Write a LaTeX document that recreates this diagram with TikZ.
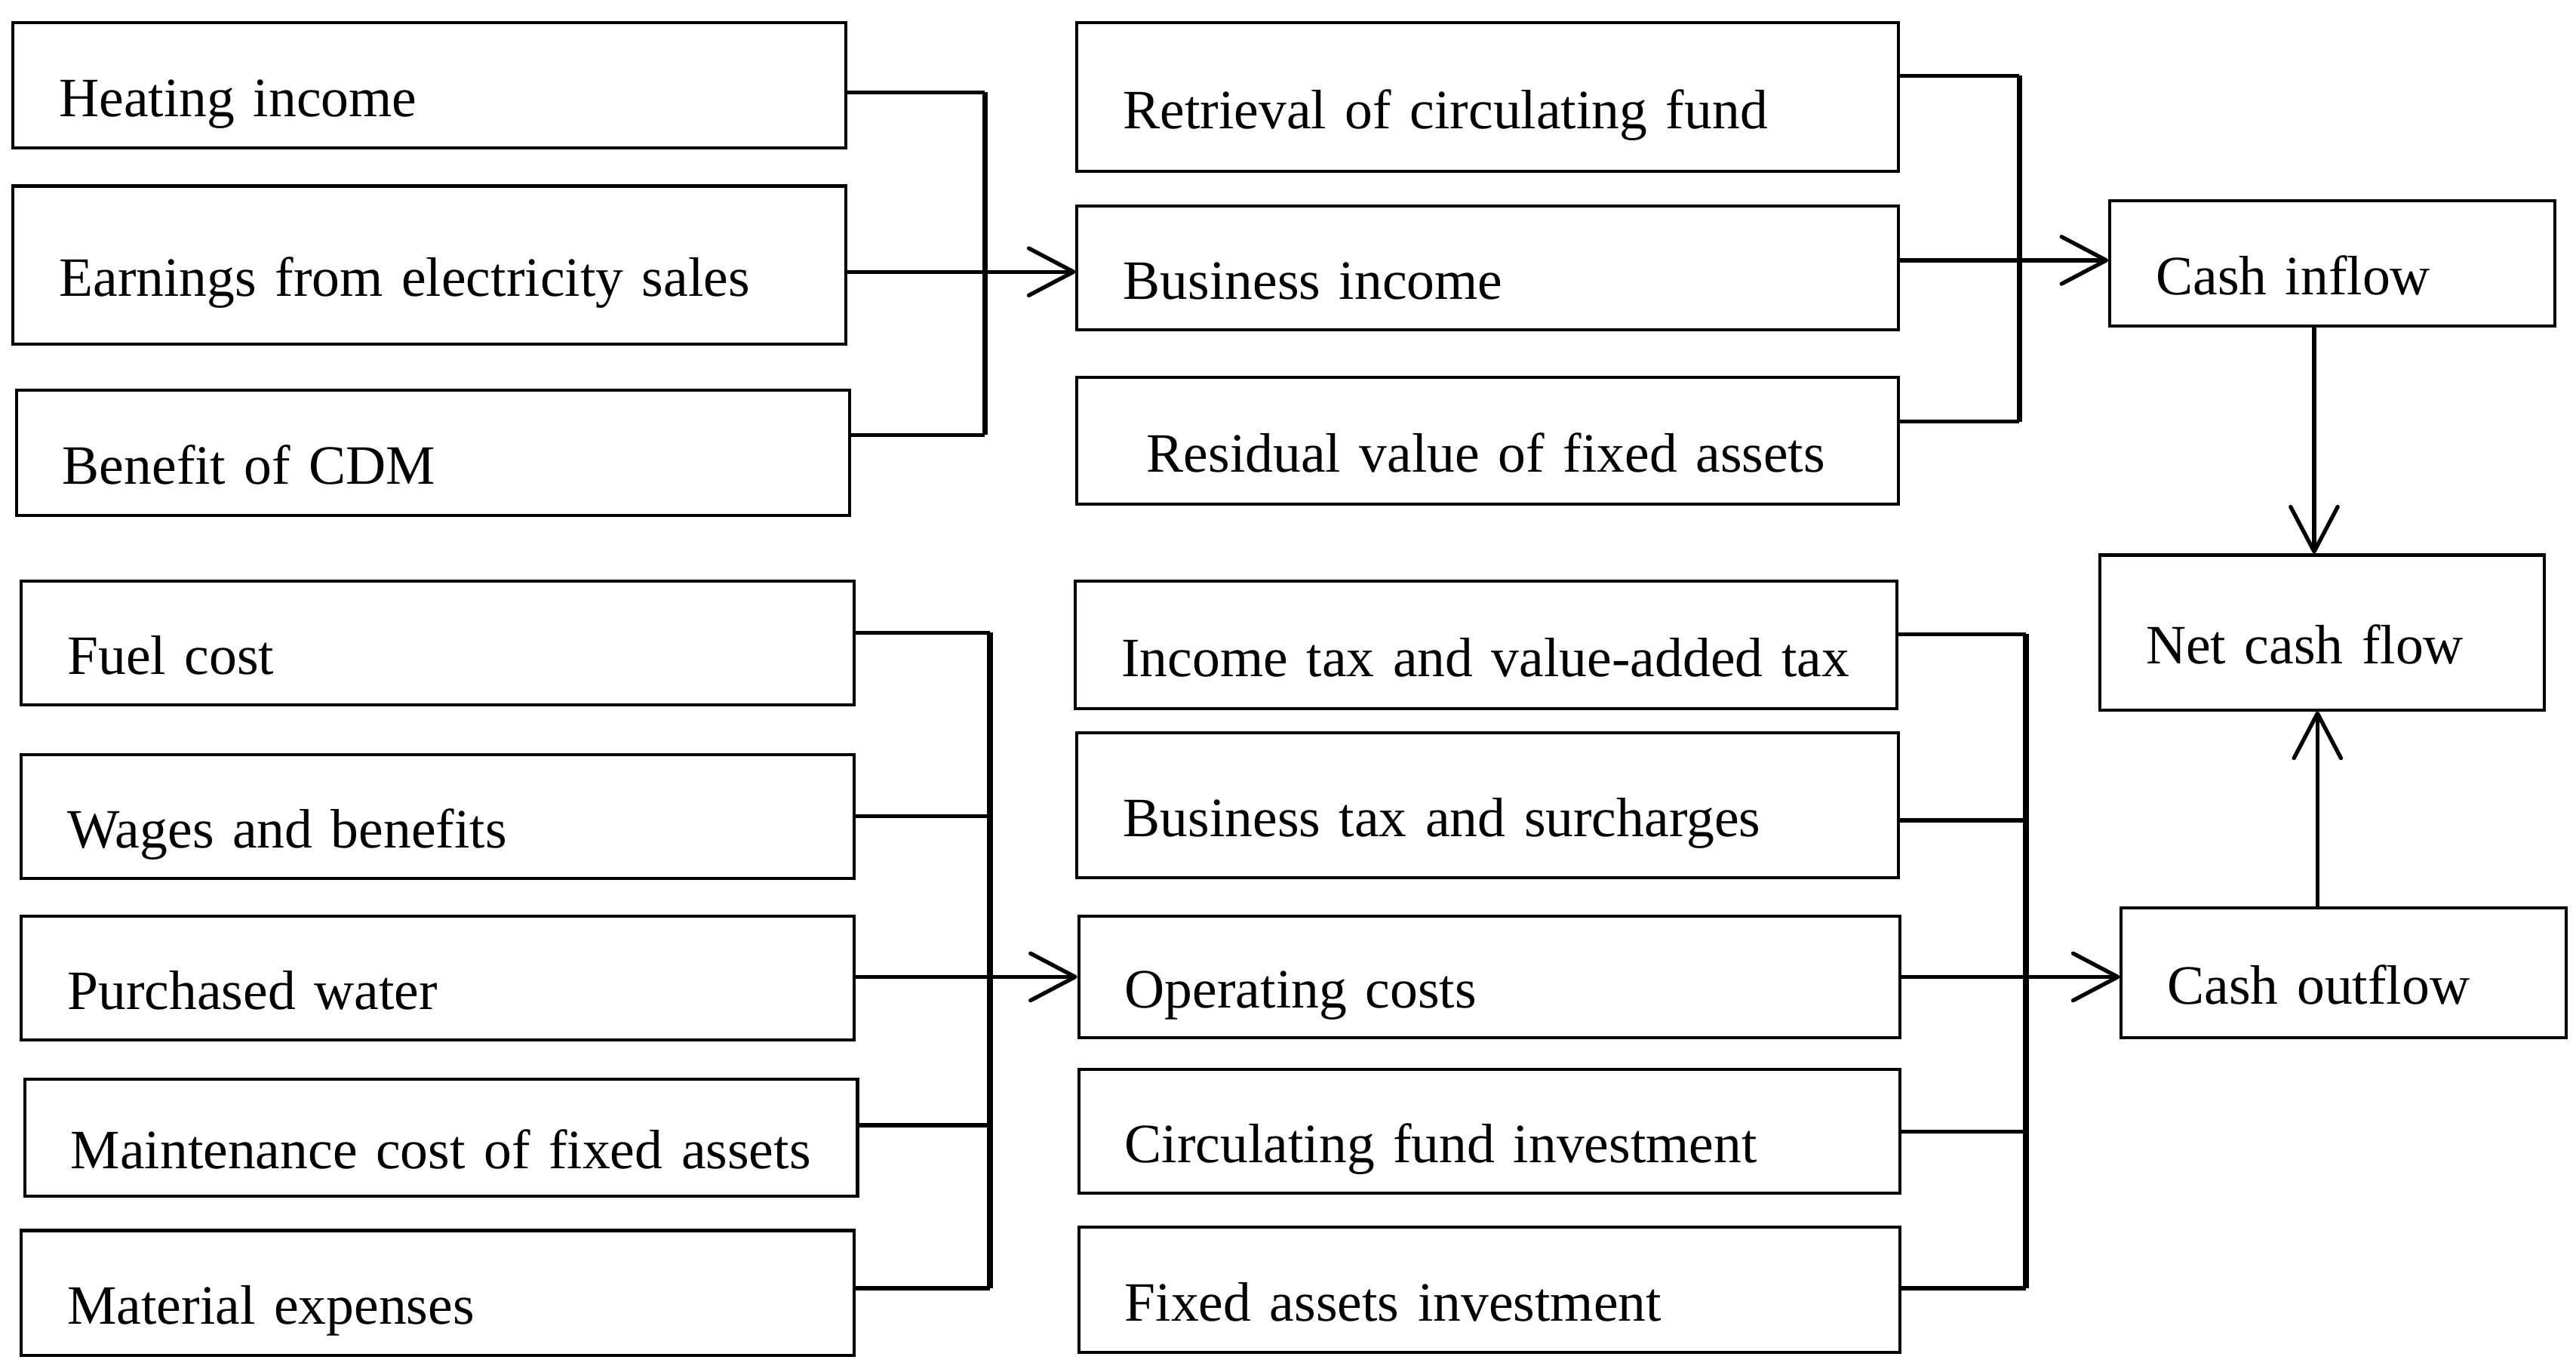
\documentclass[tikz,border=0pt]{standalone}
\usepackage{fontspec}
\setmainfont{Liberation Serif}
\usetikzlibrary{arrows.meta}

\tikzset{
  box/.style={draw, line width=0.65pt, anchor=north west, inner xsep=0pt, inner ysep=0pt,
    align=left, text height=13.3pt, text depth=0pt, font=\fontsize{11.8}{14}\selectfont,
    execute at begin node={\hspace*{9.8pt}}},
  wide/.style={box, text width=177pt},
  mid/.style={box, text width=174.5pt},
  small/.style={box, text width=94.5pt},
  link/.style={line width=0.85pt},
  spine/.style={line width=1.15pt},
  flow/.style={link, -{Straight Barb[length=9.5pt,width=10pt,round]}}
}

\begin{document}
\begin{tikzpicture}[x=0.35pt,y=-0.35pt]
    \useasboundingbox (0,0) rectangle (1564,830.6);
    % income side
    \node[wide, minimum height=26.6pt] (heat) at (7,13) {Heating income};
    \node[wide, minimum height=33.6pt] (earn) at (7,112) {Earnings from electricity sales};
    \node[wide, minimum height=26.6pt] (cdm) at (9,236) {Benefit of CDM};
    \node[mid, minimum height=31.5pt] (ret) at (653,13) {Retrieval of circulating fund};
    \node[mid, minimum height=26.3pt] (binc) at (653,124) {Business income};
    \node[mid, minimum height=27pt] (resid) at (653,228) {\hspace*{5pt}Residual value of fixed assets};
    \node[small, minimum height=26.6pt] (cin) at (1280,121) {Cash inflow};
    \node[small, minimum height=32.9pt] (net) at (1274,336) {Net cash flow};
    \node[small, minimum height=27.6pt] (cout) at (1287,550) {Cash outflow};
    % cost side
    \node[wide, minimum height=26.3pt] (fuel) at (12,352) {Fuel cost};
    \node[wide, minimum height=26.3pt] (wage) at (12,457) {Wages and benefits};
    \node[wide, minimum height=26.3pt] (water) at (12,555) {Purchased water};
    \node[wide, minimum height=24.9pt] (maint) at (14,654) {Maintenance cost of fixed assets};
    \node[wide, minimum height=26.6pt] (mat) at (12,746) {Material expenses};
    \node[mid, minimum height=27pt] (itax) at (652,352) {Income tax and value-added tax};
    \node[mid, minimum height=30.8pt] (btax) at (653,444) {Business tax and surcharges};
    \node[mid, minimum height=25.9pt] (opc) at (654,555) {Operating costs};
    \node[mid, minimum height=26.3pt] (cfi) at (654,648) {Circulating fund investment};
    \node[mid, minimum height=26.6pt] (fai) at (654,744) {Fixed assets investment};

    % brackets
    \coordinate (s1a) at (598,56);  \coordinate (s1b) at (598,264);  \coordinate (e1) at (598,165);
    \coordinate (s2a) at (1226,46); \coordinate (s2b) at (1226,256); \coordinate (e2) at (1226,158);
    \coordinate (s3a) at (601,384); \coordinate (s3b) at (601,782);  \coordinate (e3) at (601,593);
    \coordinate (m3) at (601,683);
    \coordinate (s4a) at (1230,385); \coordinate (s4b) at (1230,782); \coordinate (e4) at (1230,593);
    \coordinate (b4) at (1230,498); \coordinate (c4) at (1230,687);
    \coordinate (d1) at (1405,266); \coordinate (d2) at (1407,490);

    \draw[link] (heat.east |- s1a) -- (s1a);
    \draw[link] (cdm.east |- s1b) -- (s1b);
    \draw[spine] (s1a) -- (s1b);
    \draw[flow] (earn.east |- e1) -- (binc.west |- e1);

    \draw[link] (ret.east |- s2a) -- (s2a);
    \draw[link] (resid.east |- s2b) -- (s2b);
    \draw[spine] (s2a) -- (s2b);
    \draw[flow] (binc.east |- e2) -- (cin.west |- e2);

    \draw[link] (fuel.east |- s3a) -- (s3a);
    \draw[link] (wage.east) -- (wage.east -| s3a);
    \draw[link] (maint.east |- m3) -- (m3);
    \draw[link] (mat.east |- s3b) -- (s3b);
    \draw[spine] (s3a) -- (s3b);
    \draw[flow] (water.east |- e3) -- (opc.west |- e3);

    \draw[link] (itax.east |- s4a) -- (s4a);
    \draw[link] (btax.east |- b4) -- (b4);
    \draw[link] (cfi.east |- c4) -- (c4);
    \draw[link] (fai.east |- s4b) -- (s4b);
    \draw[spine] (s4a) -- (s4b);
    \draw[flow] (opc.east |- e4) -- (cout.west |- e4);

    \draw[flow] (cin.south -| d1) -- (net.north -| d1);
    \draw[flow] (cout.north -| d2) -- (net.south -| d2);
\end{tikzpicture}
\end{document}
